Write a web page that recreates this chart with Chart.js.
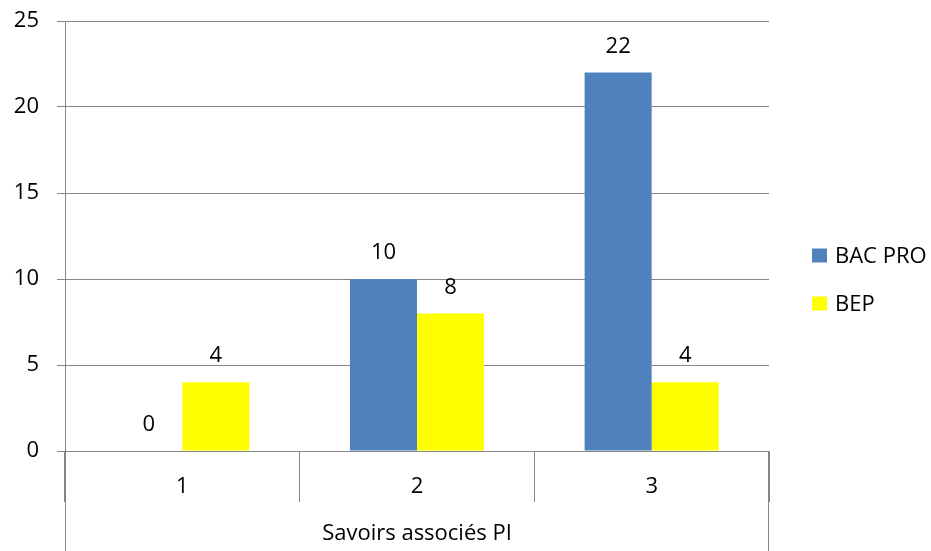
<!DOCTYPE html>
<html>
<head>
<meta charset="utf-8">
<script src="https://cdn.jsdelivr.net/npm/chart.js@4"></script>
<style>
  html, body { margin: 0; padding: 0; background: #fff; }
  #wrap { width: 931px; height: 551px; }
</style>
</head>
<body>
<div id="wrap"><canvas id="c" width="931" height="551"></canvas></div>
<script>
const categories = ['1', '2', '3'];
const bacPro = [0, 10, 22];
const bep = [4, 8, 4];
const seriesNames = ['BAC PRO', 'BEP'];
const seriesColors = ['#4F81BD', '#FFFF00'];
const axisTitle = 'Savoirs associés PI';
const yMin = 0, yMax = 25, yStep = 5;

const FONT = '"Open Sans", "Noto Sans", sans-serif';
const GRID = '#868686';
const FS = 22;

const extrasPlugin = {
  id: 'extras',
  afterDatasetsDraw(chart) {
    const ctx = chart.ctx;
    ctx.save();
    ctx.font = FS + 'px ' + FONT;
    ctx.fillStyle = '#000';
    ctx.textAlign = 'center';
    ctx.textBaseline = 'middle';
    chart.data.datasets.forEach((ds, di) => {
      const meta = chart.getDatasetMeta(di);
      meta.data.forEach((el, i) => {
        ctx.fillText(String(ds.data[i]), el.x, el.y - 26);
      });
    });
    ctx.restore();
  },
  afterDraw(chart) {
    const ctx = chart.ctx;
    const xs = chart.scales.x;
    const area = chart.chartArea;
    ctx.save();
    ctx.strokeStyle = GRID;
    ctx.lineWidth = 1;
    ctx.beginPath();
    const l = Math.round(xs.left) + 0.5;
    const r = Math.round(xs.right) - 0.5;
    ctx.moveTo(l, area.bottom);
    ctx.lineTo(l, chart.height);
    ctx.moveTo(r, area.bottom);
    ctx.lineTo(r, chart.height);
    ctx.stroke();
    // legend
    ctx.font = FS + 'px ' + FONT;
    ctx.textAlign = 'left';
    ctx.textBaseline = 'middle';
    chart.data.datasets.forEach((ds, i) => {
      const y = 256 + i * 48;
      ctx.fillStyle = ds.backgroundColor;
      ctx.fillRect(812, y - 7.5, 15, 14);
      ctx.fillStyle = '#000';
      ctx.fillText(ds.label, 835, y + 1);
    });
    ctx.restore();
  }
};

new Chart(document.getElementById('c'), {
  type: 'bar',
  data: {
    labels: categories,
    datasets: [
      { label: seriesNames[0], data: bacPro, backgroundColor: seriesColors[0] },
      { label: seriesNames[1], data: bep, backgroundColor: seriesColors[1] }
    ]
  },
  options: {
    responsive: false,
    animation: false,
    devicePixelRatio: 1,
    categoryPercentage: 2 / 3.5,
    barPercentage: 1,
    layout: { padding: { top: 21, right: 162, left: 0, bottom: 0 } },
    plugins: {
      legend: { display: false },
      tooltip: { enabled: false }
    },
    scales: {
      x: {
        offset: true,
        grid: {
          offset: true,
          drawOnChartArea: false,
          drawTicks: true,
          tickLength: 51,
          color: GRID,
          lineWidth: 1
        },
        border: { display: true, color: GRID },
        ticks: {
          color: '#000',
          font: { family: FONT, size: FS },
          padding: -28,
          maxRotation: 0
        },
        title: {
          display: true,
          text: axisTitle,
          color: '#000',
          font: { family: FONT, size: FS },
          padding: { top: 0, bottom: 4 }
        },
        afterFit(scale) {
          scale.height = 100;
          scale.paddingLeft = 0;
          scale.paddingRight = 0;
        }
      },
      y: {
        min: yMin,
        max: yMax,
        grid: {
          color: GRID,
          lineWidth: 1,
          tickLength: 8,
          drawTicks: true
        },
        border: { display: true, color: GRID },
        ticks: {
          stepSize: yStep,
          color: '#000',
          font: { family: FONT, size: FS },
          padding: 18
        },
        afterFit(scale) {
          scale.width = 65;
          scale.paddingTop = 0;
          scale.paddingBottom = 0;
        }
      }
    }
  },
  plugins: [extrasPlugin]
});
</script>
</body>
</html>
